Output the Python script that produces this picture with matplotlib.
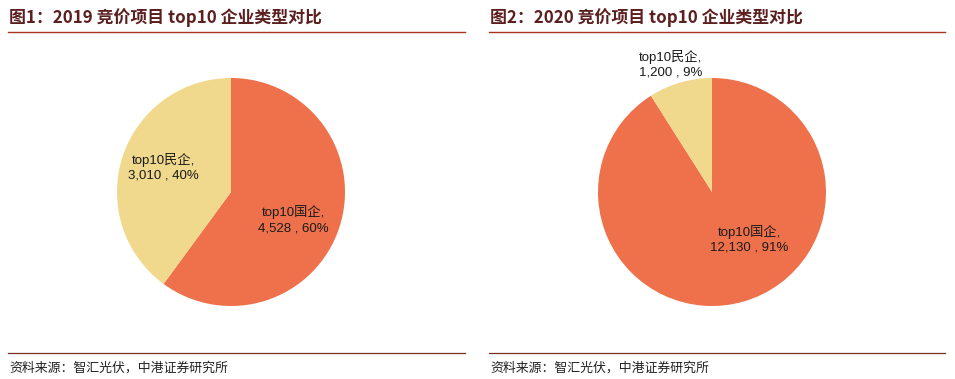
import matplotlib
matplotlib.use("Agg")
import matplotlib.pyplot as plt
from matplotlib.lines import Line2D
import math

plt.rcParams['font.family'] = ['Liberation Sans', 'Noto Sans CJK SC', 'DejaVu Sans']

# data
titles = ["图1：2019 竞价项目 top10 企业类型对比", "图2：2020 竞价项目 top10 企业类型对比"]
categories = ["top10国企", "top10民企"]
values_2019 = [4528, 3010]
values_2020 = [12130, 1200]
source = "资料来源：智汇光伏，中港证券研究所"

colors = ["#EE714B", "#F0D88C"]
title_color = "#5C1F1F"
rule_color = "#A8341E"

W, H = 955, 379
fig = plt.figure(figsize=(W / 100, H / 100), dpi=100)

# label positions (angle in degrees, distance in radii), per panel
label_pos = [
    [(-24, 0.6), (160, 0.63)],
    [(-52, 0.53), (108, 1.18)],
]
panels = [(values_2019, 231, 8, 465), (values_2020, 712, 489, 945)]

for i, (vals, cx, x0, x1) in enumerate(panels):
    r = 114
    ax = fig.add_axes([(cx - r) / W, (H - 192 - r) / H, 2 * r / W, 2 * r / H])
    ax.pie(vals, colors=colors, startangle=90, counterclock=False,
           radius=1, wedgeprops=dict(linewidth=0))
    ax.set_xlim(-1, 1)
    ax.set_ylim(-1, 1)
    ax.set_aspect('equal')
    ax.axis('off')
    total = sum(vals)
    for j, cat in enumerate(categories):
        ang, d = label_pos[i][j]
        x = d * math.cos(math.radians(ang))
        y = d * math.sin(math.radians(ang))
        pct = round(vals[j] / total * 100)
        ax.text(x, y, f"{cat},\n{vals[j]:,} , {pct}%", ha='center', va='center',
                fontsize=9.5, color='#1a1a1a', linespacing=1.3, clip_on=False)

    fig.text((x0 + 1) / W, 1 - 18 / H, titles[i], fontsize=12.2, fontweight='bold',
             color=title_color, va='center', ha='left',
             family=['Noto Sans CJK SC', 'DejaVu Sans'])
    fig.add_artist(Line2D([x0 / W, x1 / W], [1 - 32 / H, 1 - 32 / H],
                          color=rule_color, linewidth=1.0))
    fig.add_artist(Line2D([x0 / W, x1 / W], [1 - 353 / H, 1 - 353 / H],
                          color='#7A2E20', linewidth=0.9))
    fig.text((x0 + 1) / W, 1 - 368 / H, source, fontsize=9.3, color='#222222',
             va='center', ha='left', style='italic',
             family=['Noto Sans CJK SC', 'DejaVu Sans'])

fig.savefig("out.png", dpi=100)
